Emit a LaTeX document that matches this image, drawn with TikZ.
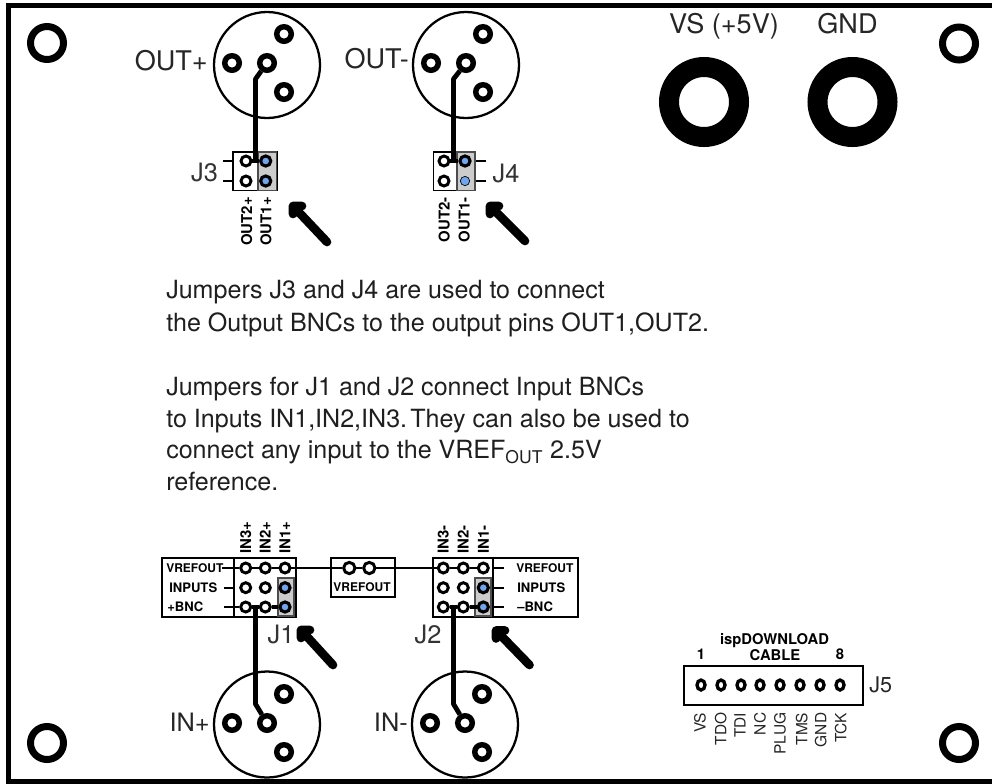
\documentclass[tikz,border=0pt]{standalone}
\usepackage{fontspec}
\setmainfont{TeX Gyre Heros}
\usetikzlibrary{shapes.geometric}
\newcommand{\fs}[1]{\fontsize{#1}{#1}\selectfont}
\definecolor{padblue}{RGB}{110,165,240}
\tikzset{
  x=0.75pt,y=-0.75pt,
  conn/.style={circle,draw=black,line width=1.7pt,fill=white,minimum size=79.5pt,inner sep=0pt},
  ring/.style={circle,draw=black,line width=4.1pt,fill=white,minimum size=10.9pt,inner sep=0pt},
  hole/.style={circle,draw=black,line width=5.25pt,fill=white,minimum size=24.75pt,inner sep=0pt},
  big/.style={circle,draw=black,line width=15pt,fill=white,minimum size=52.5pt,inner sep=0pt},
  pad/.style={circle,draw=black,line width=2.2pt,fill=white,minimum size=7.5pt,inner sep=0pt},
  bpad/.style={circle,draw=black,line width=2.3pt,fill=padblue,minimum size=7.6pt,inner sep=0pt},
  tpad/.style={circle,draw=black,line width=0.5pt,fill=padblue,minimum size=7pt,inner sep=0pt},
  jpad/.style={ellipse,draw=black,line width=2.5pt,fill=white,minimum width=6pt,minimum height=7.5pt,inner sep=0pt},
  trace/.style={draw=black,line width=3.6pt,line join=round},
  wire/.style={draw=black,line width=2pt},
  tick/.style={draw=black,line width=1.2pt},
  box/.style={draw=black,line width=1.5pt},
  jbox/.style={draw=black,line width=1.2pt,fill=white},
  graybar/.style={draw=black!70,line width=1pt,fill=black!20},
  arrowline/.style={draw=black,line width=6.5pt,line cap=round,line join=round},
  lab/.style={inner sep=0pt,font=\fs{20.3},text=black!85},
  jl/.style={inner sep=0pt,font=\fs{19},text=black!80},
  para/.style={inner sep=0pt,anchor=base west,font=\fs{18.8},text=black!88},
  rotb/.style={inner sep=0pt,rotate=90,font=\fs{11.2}\bfseries},
  rotn/.style={inner sep=0pt,rotate=90,anchor=east,font=\fs{11.6},text=black!85},
  smalltext/.style={inner sep=0pt,font=\fs{9}\bfseries},
  smalltextb/.style={inner sep=0pt,font=\fs{9.8}\bfseries},
  captext/.style={inner sep=0pt,font=\fs{11.1}\bfseries},
}
\begin{document}
\begin{tikzpicture}
\useasboundingbox (0,0) rectangle (992,783);
\fill[white] (0,0) rectangle (992,783);
\draw[draw=black,line width=3.75pt] (992,5.8) -- (8.5,5.8) -- (8.5,781) -- (992,781);

% corner and power rings
\node[hole] (c1) at (47,43) {};
\node[hole] (c2) at (959,43.5) {};
\node[hole] (c3) at (47,743) {};
\node[hole] (c4) at (959,743) {};
\node[big] (vs) at (704,102) {};
\node[big] (gnd) at (852.5,102) {};
\node[lab,anchor=base] (vst) at (724,33) {VS (+5V)};
\node[lab,anchor=base] (gndt) at (847.5,33) {GND};

% output connectors
\node[conn] (op) at (267,65) {};
\node[ring] (op1) at (232,63) {};
\node[ring] (op2) at (267,63) {};
\node[ring] (op3) at (284,34) {};
\node[ring] (op4) at (284,92) {};
\node[conn] (om) at (466,65) {};
\node[ring] (om1) at (431,63) {};
\node[ring] (om2) at (466,63) {};
\node[ring] (om3) at (483,34) {};
\node[ring] (om4) at (483,92) {};
\node[lab,anchor=base east] (opt) at (208,70) {OUT+};
\node[lab,anchor=base east] (omt) at (409,68) {OUT-};

% J3
\draw[tick] (223,161) -- (233,161) (223,181) -- (233,181);
\draw[jbox] (233,152) rectangle (277,190.5);
\draw[graybar] (258,152) rectangle (276.5,190.5);
\node[pad] (j3a) at (246,161) {};
\node[pad] (j3b) at (246,181) {};
\node[bpad] (j3c) at (265.7,161) {};
\node[bpad] (j3d) at (265.7,181) {};
\coordinate (j3m) at (255.5,161);
\coordinate (j3k) at (255.5,79);
\draw[trace] (j3a) -- (j3c);
\draw[trace] (op2) -- (j3k) -- (j3m);
\node[jl] (j3t) at (204.5,172) {J3};
\node[rotb,anchor=east] (o2p) at (246.7,197) {OUT2+};
\node[rotb,anchor=east] (o1p) at (266,197) {OUT1+};

% J4
\draw[tick] (475,161) -- (486,161) (475,181) -- (486,181);
\draw[jbox] (433.5,152) rectangle (475,190.5);
\draw[graybar] (457,152) rectangle (475,190.5);
\node[pad] (j4a) at (444,161) {};
\node[pad] (j4b) at (444,181) {};
\node[bpad] (j4c) at (465,161) {};
\node[tpad] (j4d) at (465,181) {};
\coordinate (j4m) at (453.5,161);
\coordinate (j4k) at (453.5,79);
\draw[trace] (j4a) -- (j4c);
\draw[trace] (om2) -- (j4k) -- (j4m);
\node[jl] (j4t) at (506,173) {J4};
\node[rotb,anchor=east] (o2m) at (444.3,197) {OUT2-};
\node[rotb,anchor=east] (o1m) at (464.3,197) {OUT1-};

% pointer arrows
\coordinate (a1) at (293,206); \coordinate (a1t) at (327,242);
\draw[arrowline] (302,206) -- (a1) -- (293,214) (a1) -- (a1t);
\coordinate (a2) at (490,206); \coordinate (a2t) at (525,241);
\draw[arrowline] (499,206) -- (a2) -- (490,214) (a2) -- (a2t);
\coordinate (a3) at (301,630); \coordinate (a3t) at (333,665);
\draw[arrowline] (310,630) -- (a3) -- (301,638) (a3) -- (a3t);
\coordinate (a4) at (496,630.5); \coordinate (a4t) at (529.5,665);
\draw[arrowline] (505,630.5) -- (a4) -- (496,638.5) (a4) -- (a4t);

% paragraphs
\node[para] (t1) at (166,298) {Jumpers J3 and J4 are used to connect};
\node[para] (t2) at (166,331) {the Output BNCs to the output pins OUT1,OUT2.};
\node[para] (t3) at (166,395) {Jumpers for J1 and J2 connect Input BNCs};
\node[para] (t4) at (166,427) {to Inputs IN1,IN2,IN3.\kern-0.15em\ They can also be used to};
\node[para] (t5) at (166,458) {connect any input to the VREF$_{\mathrm{OUT}}$ 2.5V};
\node[para] (t6) at (166,490.5) {reference.};

% J1
\draw[box] (162,558) rectangle (233.5,616.5);
\draw[box] (233.5,558) rectangle (295.7,616.5);
\draw[graybar] (278,578) rectangle (294,616);
\node[pad] (j11) at (245.7,568) {};
\node[pad] (j12) at (265.3,568) {};
\node[pad] (j13) at (285,568) {};
\node[pad] (j14) at (245.7,587.7) {};
\node[pad] (j15) at (265.3,587.7) {};
\node[bpad] (j16) at (285,587.7) {};
\node[pad] (j17) at (245.7,607) {};
\node[pad] (j18) at (265.3,607) {};
\node[bpad] (j19) at (285,607) {};
\draw[tick] (222,568) -- (j11) (224,587.7) -- (233.5,587.7) (224,607) -- (j17);
\draw[wire] (j11) -- (j12);
\draw[wire] (j12) -- (j13);
\draw[trace] (j17) -- (j18);
\draw[trace] (j18) -- (j19);
\node[smalltext,anchor=west] (vl1) at (166,568) {VREFOUT};
\node[smalltextb,anchor=west] (il1) at (169,587.5) {INPUTS};
\node[smalltextb,anchor=west] (bl1) at (167,607) {+BNC};
\node[rotb,anchor=west] (i31) at (245.7,554) {IN3+};
\node[rotb,anchor=west] (i21) at (265.3,554) {IN2+};
\node[rotb,anchor=west] (i11) at (285,554) {IN1+};
\node[jl] (j1t) at (281,634) {J1};

% VREFOUT
\draw[box] (331,558) rectangle (395,597);
\node[pad,minimum size=8.5pt] (v1) at (349.3,568) {};
\node[pad,minimum size=8.5pt] (v2) at (369.3,568) {};
\node[smalltext] (vt) at (362,587) {VREFOUT};
\draw[wire] (v1) -- (v2);

% J2
\draw[box] (433.3,558) rectangle (493.3,616.5);
\draw[box] (493.3,558) rectangle (577.7,616.5);
\draw[graybar] (475,578) rectangle (491,616);
\node[pad] (j21) at (443.3,568) {};
\node[pad] (j22) at (463.3,568) {};
\node[pad] (j23) at (483.3,568) {};
\node[pad] (j24) at (443.3,587.7) {};
\node[pad] (j25) at (463.3,587.7) {};
\node[bpad] (j26) at (483.3,587.7) {};
\node[pad] (j27) at (443.3,607) {};
\node[pad] (j28) at (463.3,607) {};
\node[bpad] (j29) at (483.3,607) {};
\draw[tick] (494,568) -- (504,568) (494,587.7) -- (504,587.7) (494,607) -- (504,607);
\draw[wire] (j21) -- (j22);
\draw[wire] (j22) -- (j23);
\draw[trace] (j27) -- (j28);
\draw[trace] (j28) -- (j29);
\node[smalltext,anchor=west] (vl2) at (516,568) {VREFOUT};
\node[smalltextb,anchor=west] (il2) at (517,587.5) {INPUTS};
\node[smalltextb,anchor=west] (bl2) at (517,607) {--BNC};
\node[rotb,anchor=west] (i32) at (443.3,554) {IN3-};
\node[rotb,anchor=west] (i22) at (463.3,554) {IN2-};
\node[rotb,anchor=west] (i12) at (483.3,554) {IN1-};
\node[jl] (j2t) at (428,634) {J2};

% VREF bus
\draw[wire] (j13) -- (v1);
\draw[wire] (v2) -- (j21);

% input connectors
\node[conn] (ip) at (267,724.5) {};
\node[ring] (ip1) at (232,723) {};
\node[ring] (ip2) at (267,723) {};
\node[ring] (ip3) at (284,694) {};
\node[ring] (ip4) at (284,752) {};
\node[conn] (im) at (465,724.5) {};
\node[ring] (im1) at (430,723) {};
\node[ring] (im2) at (465,723) {};
\node[ring] (im3) at (482,694) {};
\node[ring] (im4) at (482,752) {};
\node[lab,anchor=base east,font=\fs{19}] (ipt) at (210,731) {IN+};
\node[lab,anchor=base east,font=\fs{19}] (imt) at (408,731) {IN-};
\coordinate (j1m) at (255.5,607);
\coordinate (j1k) at (255.5,704);
\draw[trace] (j1m) -- (j1k) -- (ip2);
\coordinate (j2m) at (453.5,607);
\coordinate (j2k) at (453.5,704);
\draw[trace] (j2m) -- (j2k) -- (im2);

% J5
\node[captext] (isp) at (774.5,641) {ispDOWNLOAD};
\node[captext] (cbl) at (775,655) {CABLE};
\node[captext] (n1) at (701,654) {1};
\node[captext] (n8) at (840,654) {8};
\draw[box] (684,665.7) rectangle (863,705);
\foreach \i/\xx/\lx/\t in {1/701/700/VS,2/721/720.7/TDO,3/741/740/TDI,4/760/760/NC,5/780/780/PLUG,6/800/801.7/TMS,7/820/820.7/GND,8/840/840.7/TCK}{
  \node[jpad] (p\i) at (\xx,685) {};
  \node[rotn] (l\i) at (\lx,712.5) {\t};
}
\node[inner sep=0pt,anchor=west,font=\fs{16.2},text=black!85] (j5t) at (869,685) {J5};
\end{tikzpicture}
\end{document}
